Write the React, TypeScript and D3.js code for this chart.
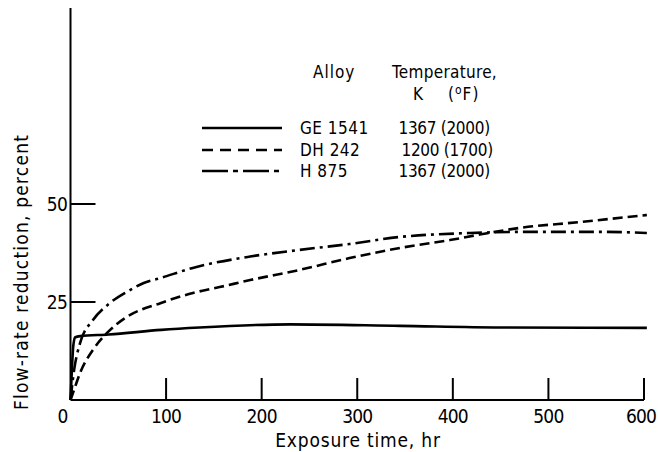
import React from "react";
import * as d3 from "d3";

const xTicks = [0, 100, 200, 300, 400, 500, 600];
const yTicks = [25, 50];

const ge1541: [number, number][] = [
  [0, 0], [1.5, 8], [3, 14], [5, 16], [10, 16.3], [40, 16.7], [95, 17.9],
  [135, 18.5], [230, 19.3], [345, 18.9], [450, 18.5], [603, 18.4],
];
const dh242: [number, number][] = [
  [0, 0], [5, 3.5], [10, 6.9], [23.5, 12.8], [39, 17.3], [59, 21.2], [94, 24.7],
  [128, 27.3], [156, 28.8], [188, 30.6], [240, 33.2], [292, 36.2], [345, 38.8],
  [397, 40.8], [428, 42.2], [470, 43.9], [533, 45.4], [603, 47.2],
];
const h875: [number, number][] = [
  [0, 0], [4, 8], [10, 14.5], [23.5, 20.4], [41, 24.7], [59, 27.6], [76, 29.8],
  [94, 31.1], [128, 33.7], [188, 36.6], [240, 38.3], [292, 39.8], [345, 41.6],
  [418, 42.6], [481, 42.9], [554, 42.9], [603, 42.6],
];

const seriesNames = ["GE 1541", "DH 242", "H 875"];
const seriesTemps = ["1367 (2000)", "1200 (1700)", "1367 (2000)"];
const seriesData = [ge1541, dh242, h875];
const seriesDash = ["none", "10,5", "15,5,3,5"];
const legendDash = ["none", "11,7", "26,5,5,5"];

const FONT = "'DejaVu Sans Condensed', 'Liberation Sans Narrow', sans-serif";

export default function App() {
  const W = 658, H = 452;
  const x = d3.scaleLinear().domain([0, 600]).range([70.5, 644]);
  const y = d3.scaleLinear().domain([0, 100]).range([400, 8]);
  const line = d3
    .line<[number, number]>()
    .x((d) => x(d[0]))
    .y((d) => y(d[1]))
    .curve(d3.curveMonotoneX);

  const legendRows = [128, 150, 171];

  return (
    <svg
      width={W}
      height={H}
      style={{ position: "absolute", left: 0, top: 0, background: "#fff" }}
      fontFamily={FONT}
      fontStretch="condensed"
    >
      {/* axes */}
      <line x1={x(0)} x2={x(0)} y1={y(0)} y2={y(100)} stroke="#000" strokeWidth={2} />
      <line x1={x(0)} x2={x(600)} y1={y(0)} y2={y(0)} stroke="#000" strokeWidth={2} />

      {xTicks.map((t) => (
        <g key={"xt" + t}>
          {t !== 0 && (
            <line x1={x(t)} x2={x(t)} y1={y(0)} y2={y(0) - 22} stroke="#000" strokeWidth={2} />
          )}
          <text
            x={Math.min(x(t) + (t === 0 ? -8 : 0), 641)}
            y={423}
            textAnchor="middle"
            fontSize={19}
            letterSpacing={-0.8}
          >
            {t}
          </text>
        </g>
      ))}

      {yTicks.map((t) => (
        <g key={"yt" + t}>
          <line x1={x(0)} x2={x(0) + 25} y1={y(t)} y2={y(t)} stroke="#000" strokeWidth={2} />
          <text x={67} y={y(t)} dy="0.36em" textAnchor="end" fontSize={19} letterSpacing={-0.8}>
            {t}
          </text>
        </g>
      ))}

      <text x={358} y={447} textAnchor="middle" fontSize={19} letterSpacing={0.8}>
        Exposure time, hr
      </text>
      <text
        transform="translate(28,272) rotate(-90)"
        textAnchor="middle"
        fontSize={19}
        letterSpacing={1.2}
      >
        Flow-rate reduction, percent
      </text>

      {/* curves */}
      {seriesData.map((s, i) => (
        <path
          key={"s" + i}
          d={line(s) || ""}
          fill="none"
          stroke="#000"
          strokeWidth={2.6}
          strokeDasharray={seriesDash[i]}
        />
      ))}

      {/* legend */}
      <text x={313} y={78} fontSize={17} letterSpacing={1}>Alloy</text>
      <text x={392} y={78} fontSize={17} letterSpacing={0.3}>Temperature,</text>
      <text x={413} y={100} fontSize={17}>K</text>
      <text x={448} y={100} fontSize={17} letterSpacing={1}>
        (<tspan dy={-6} fontSize={12}>o</tspan>
        <tspan dy={6}>F)</tspan>
      </text>
      {seriesNames.map((n, i) => (
        <g key={"lg" + i}>
          <line
            x1={202}
            x2={282}
            y1={legendRows[i]}
            y2={legendRows[i]}
            stroke="#000"
            strokeWidth={2.6}
            strokeDasharray={legendDash[i]}
          />
          <text x={300} y={legendRows[i] + 6} fontSize={17} letterSpacing={0.5}>
            {n}
          </text>
          <text x={i === 1 ? 401.5 : 398.5} y={legendRows[i] + 6} fontSize={17} letterSpacing={-0.3}>
            {seriesTemps[i]}
          </text>
        </g>
      ))}
    </svg>
  );
}
